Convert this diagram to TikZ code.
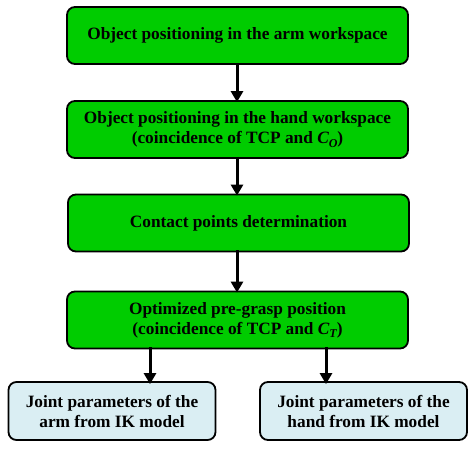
\documentclass[tikz,border=0pt]{standalone}
\usepackage{fontspec}
\setmainfont{Liberation Serif}
\usetikzlibrary{arrows.meta}
\definecolor{boxgreen}{RGB}{0,204,0}
\definecolor{boxblue}{RGB}{218,238,243}
\newcommand{\subC}[1]{{\itshape C\raisebox{-0.45ex}{\fontsize{12}{12}\selectfont #1}}}
\begin{document}
\begin{tikzpicture}[x=1pt,y=-1pt,
  every node/.style={font=\bfseries\fontsize{17.3}{20}\selectfont, align=center, inner sep=0pt},
  greenbox/.style={draw=black, line width=1.8pt, fill=boxgreen, rounded corners=8pt, minimum width=341pt, minimum height=57pt},
  bluebox/.style={draw=black, line width=1.8pt, fill=boxblue, rounded corners=8pt, minimum width=207pt, minimum height=58pt},
  flow/.style={line width=3pt, -{Triangle[width=12pt,length=11pt]}}]
\useasboundingbox (0,0) rectangle (474,448);
\node[greenbox] (b1) at (237.5,35.5) {Object positioning in the arm workspace};
\node[greenbox] (b2) at (237.5,129.5) {Object positioning in the hand workspace\\(coincidence of TCP and \subC{O})};
\node[greenbox] (b3) at (238.5,223) {Contact points determination};
\node[greenbox] (b4) at (237.5,320) {Optimized pre-grasp position\\(coincidence of TCP and \subC{T})};
\node[bluebox] (b5) at (112,411) {Joint parameters of the\\arm from IK model};
\node[bluebox] (b6) at (363.5,411) {Joint parameters of the\\hand from IK model};
\coordinate (ac) at (237,0);
\coordinate (a5) at (150,0);
\coordinate (a6) at (326,0);
\draw[flow] ([yshift=2pt]b1.south -| ac) -- ([yshift=-2pt]b2.north -| ac);
\draw[flow] ([yshift=2pt]b2.south -| ac) -- ([yshift=-2pt]b3.north -| ac);
\draw[flow] ([yshift=2pt]b3.south -| ac) -- ([yshift=-2pt]b4.north -| ac);
\draw[flow] ([yshift=2pt]b4.south -| a5) -- ([yshift=-3pt]b5.north -| a5);
\draw[flow] ([yshift=2pt]b4.south -| a6) -- ([yshift=-3pt]b6.north -| a6);
\end{tikzpicture}
\end{document}
